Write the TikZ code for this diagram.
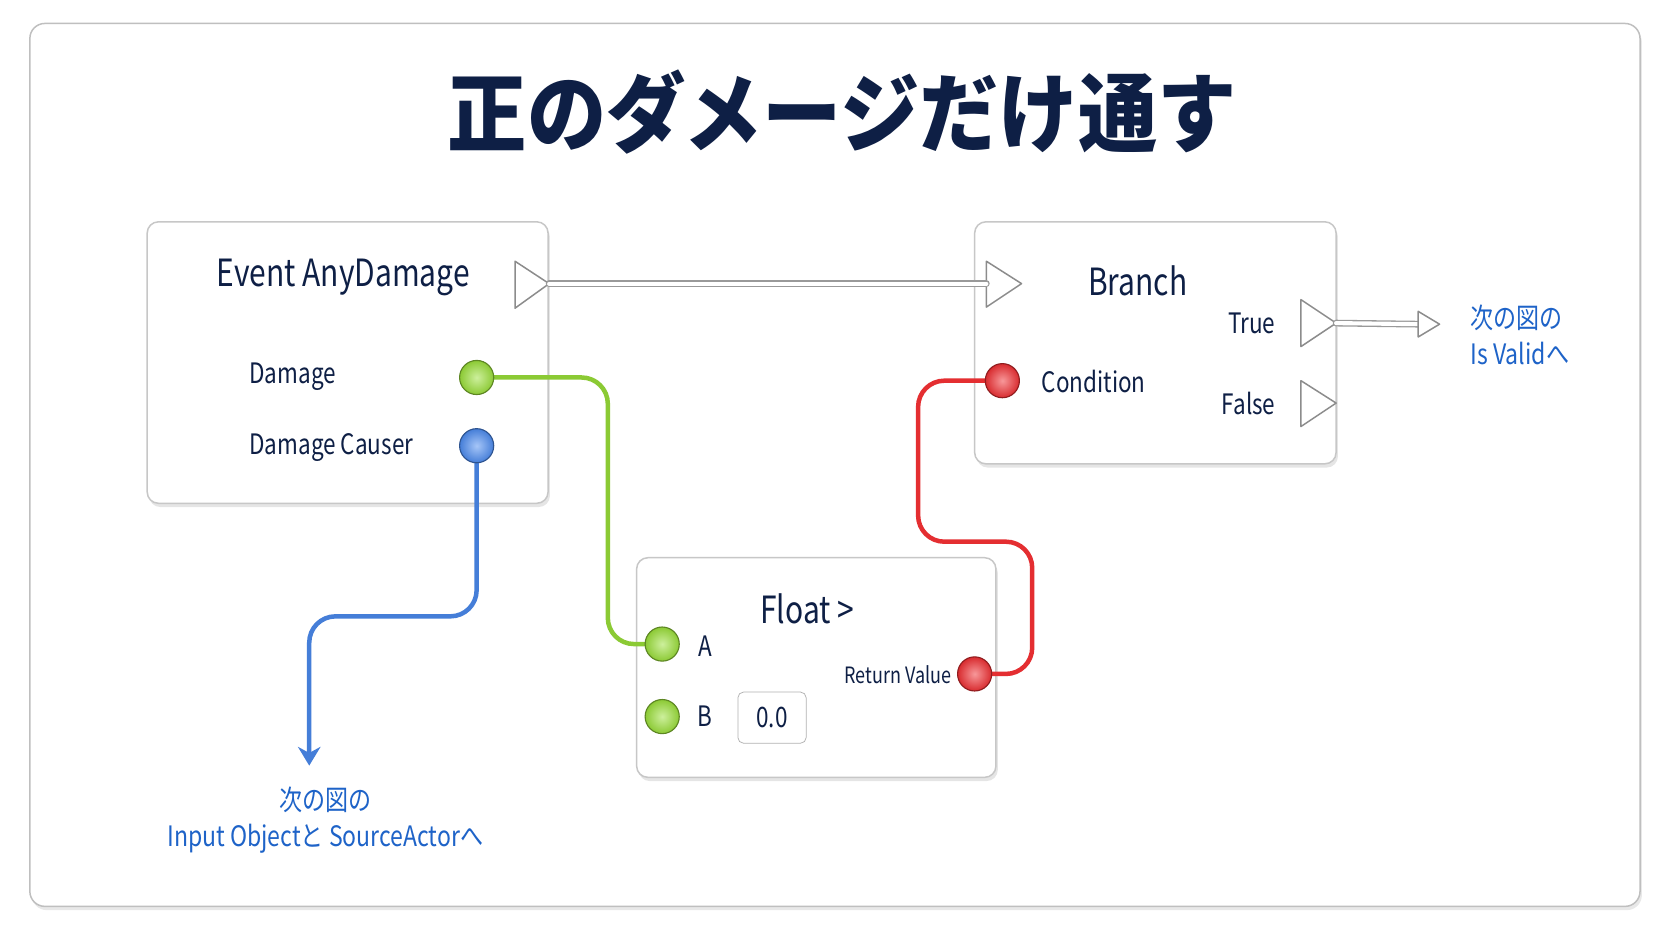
\documentclass[tikz,border=0pt]{standalone}
\usepackage{fontspec}
\setmainfont{Noto Sans CJK JP}
\usetikzlibrary{arrows.meta,shadows}
\definecolor{navy}{HTML}{0E1F45}
\definecolor{pingreen}{HTML}{9BE03A}
\definecolor{pinblue}{HTML}{4D8CF0}
\definecolor{pinred}{HTML}{F03034}
\definecolor{linkblue}{HTML}{1E63C8}

\begin{document}
\begin{tikzpicture}[x=0.02cm, y=-0.02cm, line cap=round, line join=round,
  panel/.style={draw=black!25, fill=white, rounded corners=8pt, line width=0.8pt,
    drop shadow={opacity=0.18, shadow xshift=1pt, shadow yshift=-2pt}},
  bp/.style={draw=black!22, fill=white, rounded corners=6pt, line width=0.8pt,
    drop shadow={opacity=0.2, shadow xshift=1pt, shadow yshift=-2pt}},
  ttl/.style={font=\fontsize{20}{22}\selectfont, text=navy, xscale=0.8, transform shape},
  lbl/.style={font=\fontsize{15}{17}\selectfont, text=navy, xscale=0.8, transform shape},
  pin/.style={circle, minimum size=0.64cm, inner sep=0pt, line width=0.6pt},
  exec/.style={draw=black!45, fill=white, line width=0.8pt},
  wire/.style={line width=2.4pt, rounded corners=14pt},
  note/.style={font=\fontsize{15}{19}\selectfont, text=linkblue, align=left, xscale=0.82, transform shape}
]
\useasboundingbox (0,0) rectangle (1568,882);
\path[panel] (28,22) rectangle (1538,850);
\node[font=\bfseries\fontsize{46}{50}\selectfont, text=navy, xscale=0.92, transform shape] (title) at (790,105) {正のダメージだけ通す};

% nodes
\node[bp, minimum width=7.52cm, minimum height=5.28cm] (event) at (326,340) {};
\node[bp, minimum width=6.78cm, minimum height=4.54cm] (branch) at (1083.5,321.5) {};
\node[bp, minimum width=6.74cm, minimum height=4.12cm] (float) at (765.5,626) {};

\node[ttl] (evtitle) at (322,260) {Event AnyDamage};
\node[lbl, anchor=west] (dmg) at (229,353) {Damage};
\node[lbl, anchor=west] (causer) at (229,420) {Damage Causer};
\node[ttl] (brtitle) at (1067,263) {Branch};
\node[lbl, anchor=east] (true) at (1201,303) {True};
\node[lbl, anchor=east] (false) at (1201,378) {False};
\node[lbl, anchor=west] (cond) at (972,358) {Condition};
\node[ttl] (fltitle) at (757,571) {Float >};
\node[lbl] (alab) at (661,606) {A};
\node[lbl] (blab) at (661,672) {B};
\node[lbl, draw=black!30, rounded corners=3pt, minimum width=1.6cm, minimum height=0.96cm] (bval) at (724,673) {0.0};
\node[lbl, font=\fontsize{12}{14}\selectfont] (ret) at (842,633) {Return Value};

% exec pins
\coordinate (brin) at (925,266);
\coordinate (nextvalid) at (1330,304);
\draw[exec] (483,245) -- (515,266) -- (483,289) -- cycle;
\draw[exec] (925,245) -- (958,266) -- (925,288) -- cycle;
\draw[exec] (1220,281) -- (1253,303) -- (1220,325) -- cycle;
\draw[exec] (1220,357) -- (1253,378) -- (1220,400) -- cycle;
\draw[black!40, double=white, double distance=2.2pt, line width=0.7pt] (515,266) -- (brin);
\draw[black!40, double=white, double distance=2.2pt, line width=0.7pt] (1253,303) -- (nextvalid);
\draw[exec] (1330,292) -- (1350,304) -- (1330,316) -- cycle;

% wires
\draw[wire, pingreen!90!black] (447,354) -- (570,354) -- (570,604) -- (621,604);
\draw[wire, pinred!95!black] (914,632) -- (968,632) -- (968,508) -- (861,508) -- (861,357) -- (940,357);
\coordinate (blueend) at (290,718);
\draw[wire, pinblue!90!black, -{Stealth[length=10pt,width=12pt]}] (447,418) -- (447,578) -- (290,578) -- (blueend);

% data pins
\node[pin, draw=pingreen!60!black, inner color=pingreen!50!white, outer color=pingreen!90!black] (pdmg) at (447,354) {};
\node[pin, draw=pinblue!60!black, inner color=pinblue!50!white, outer color=pinblue!90!black] (pcauser) at (447,418) {};
\node[pin, draw=pinred!60!black, inner color=pinred!50!white, outer color=pinred!90!black] (pcond) at (940,357) {};
\node[pin, draw=pingreen!60!black, inner color=pingreen!50!white, outer color=pingreen!90!black] (pa) at (621,604) {};
\node[pin, draw=pingreen!60!black, inner color=pingreen!50!white, outer color=pingreen!90!black] (pb) at (621,672) {};
\node[pin, draw=pinred!60!black, inner color=pinred!50!white, outer color=pinred!90!black] (pret) at (914,632) {};

% notes
\node[note, anchor=north west] (validnote) at (1374,280) {次の図の\\Is Validへ};
\node[note, align=center, anchor=north] (inputnote) at (305,732) {次の図の\\Input Objectと SourceActorへ};
\end{tikzpicture}
\end{document}
